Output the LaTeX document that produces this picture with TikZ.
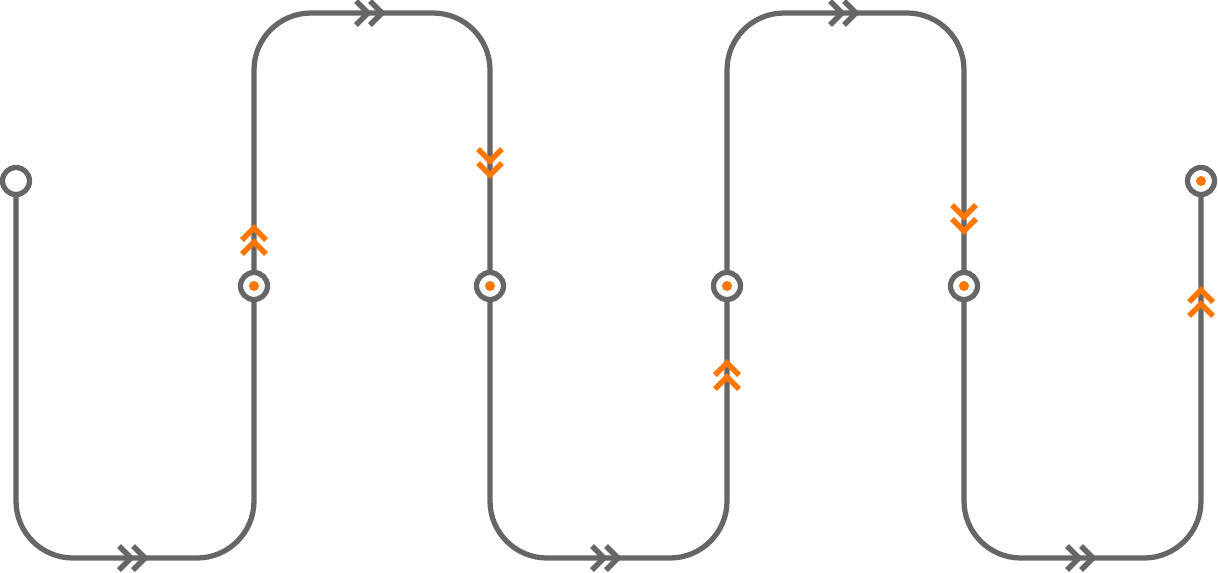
\documentclass[tikz,border=0pt]{standalone}
\usepackage{tikz}
\definecolor{wiregray}{RGB}{102,102,102}
\definecolor{accent}{RGB}{255,119,0}

\begin{document}
\begin{tikzpicture}[x=0.02cm,y=-0.02cm,
  wire/.style={draw=wiregray,line width=0.105cm,rounded corners=1.14cm},
  ring/.style={circle,draw=wiregray,line width=0.105cm,fill=white,minimum size=0.54cm,inner sep=0pt},
  hub/.style={ring,path picture={\fill[accent](path picture bounding box.center) circle (0.1cm);}},
  chevline/.style={line width=0.11cm,miter limit=4},
  chev/.pic={\draw[chevline,pic actions](-16,-12)--(-4,0)--(-16,12);\draw[chevline,pic actions](-2,-12)--(10,0)--(-2,12);}]
\useasboundingbox (0,0) rectangle (1218,572);
\coordinate(bot) at (0,558);
\coordinate(top) at (0,13);
\node[ring](st) at (16,181){};
\node[hub](s1) at (254,286){};
\node[hub](s2) at (490,286){};
\node[hub](s3) at (727,286){};
\node[hub](s4) at (964,286){};
\node[hub](en) at (1201,181){};
\draw[wire](st.south)--(st|-bot)--(s1|-bot)--(s1.south);
\draw[wire](s1.north)--(s1|-top)--(s2|-top)--(s2.north);
\draw[wire](s2.south)--(s2|-bot)--(s3|-bot)--(s3.south);
\draw[wire](s3.north)--(s3|-top)--(s4|-top)--(s4.north);
\draw[wire](s4.south)--(s4|-bot)--(en|-bot)--(en.south);
% gray arrows on the horizontal runs
\foreach \x/\y in {135/558,372/13,608/558,846/13,1083/558}
  \pic[draw=wiregray] at (\x,\y){chev};
% orange arrows on the vertical runs
\pic[draw=accent,rotate=90] at (254,238){chev};
\pic[draw=accent,rotate=-90] at (490,165){chev};
\pic[draw=accent,rotate=90] at (727,373){chev};
\pic[draw=accent,rotate=-90] at (964,221){chev};
\pic[draw=accent,rotate=90] at (1201,300){chev};
\end{tikzpicture}
\end{document}
